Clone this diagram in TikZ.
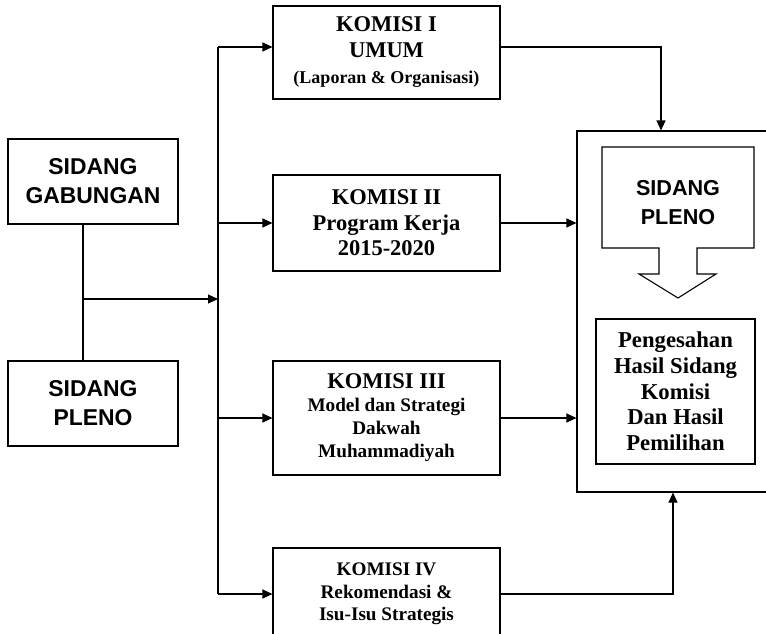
\documentclass[tikz,border=0pt]{standalone}
\usepackage{fontspec}
\setmainfont{Liberation Serif}
\newfontfamily\sidangfont{Liberation Sans}
\usetikzlibrary{arrows.meta,positioning,calc}

\begin{document}
\begin{tikzpicture}[
  x=1pt, y=-1pt,
  line width=1.1pt,
  sidang/.style={draw, align=center, minimum width=170pt, minimum height=85pt, font=\sidangfont\bfseries\fontsize{22.9}{29}\selectfont},
  komisi/.style={draw, align=center, minimum width=227pt, font=\bfseries\fontsize{22.5}{25.5}\selectfont},
  hasil/.style={draw, align=center, minimum width=159pt, minimum height=145pt, font=\bfseries\fontsize{22.7}{25.7}\selectfont},
  arr/.style={-{Triangle[length=10pt,width=9pt]}}
]
\useasboundingbox (0,0) rectangle (766,634);

% left side
\node[sidang] (gab) at (93,181.5) {SIDANG\\GABUNGAN};
\node[sidang] (plenoL) at (93,403.5) {SIDANG\\PLENO};
\coordinate (join) at (83,299);
\coordinate (busTop) at (218,47);

% komisi
\node[komisi, minimum height=93pt] (k1) at (386.5,52.5) {KOMISI I\\UMUM\\[1pt]{\fontsize{18}{22}\selectfont (Laporan \& Organisasi)}};
\node[komisi, minimum height=96pt] (k2) at (386.5,223) {KOMISI II\\Program Kerja\\2015-2020};
\node[komisi, minimum height=114pt, font=\bfseries\fontsize{19.2}{23}\selectfont] (k3) at (386.5,418) {{\fontsize{22.5}{25}\selectfont KOMISI III}\\Model dan Strategi\\Dakwah\\Muhammadiyah};
\node[komisi, minimum height=92pt, font=\bfseries\fontsize{19.2}{22.5}\selectfont] (k4) at (386.5,594) {KOMISI IV\\Rekomendasi \&\\Isu-Isu Strategis};

% right side
\node[draw, minimum width=223pt, minimum height=361pt] (plenoR) at (688.5,311.5) {};
\draw (602,147) -- (754,147) -- (754,248) -- (697,248) -- (697,274) -- (716,274)
  -- (678,298) -- (639,274) -- (659,274) -- (659,248) -- (602,248) -- cycle;
\node[align=center, font=\sidangfont\bfseries\fontsize{21.6}{29}\selectfont] (plenoIn) at (678,203) {SIDANG\\PLENO};
\node[hasil] (sah) at (675.5,391.5) {Pengesahan\\Hasil Sidang\\Komisi\\Dan Hasil\\Pemilihan};
\coordinate (k1turn) at (661,47);
\coordinate (k4turn) at (673,594);

% connectors
\draw (gab.south -| join) -- (plenoL.north -| join);
\draw[arr] (join) -- (join -| busTop);
\draw (busTop) -- (k4.west -| busTop);
\draw[arr] (busTop) -- (busTop -| k1.west);
\foreach \k in {k2,k3,k4}
  \draw[arr] (\k.west -| busTop) -- (\k.west);
\draw[arr] (k1.east |- k1turn) -- (k1turn) -- (k1turn |- plenoR.north);
\draw[arr] (k2.east) -- (k2.east -| plenoR.west);
\draw[arr] (k3.east) -- (k3.east -| plenoR.west);
\draw[arr] (k4.east) -- (k4turn) -- (k4turn |- plenoR.south);
\end{tikzpicture}
\end{document}
